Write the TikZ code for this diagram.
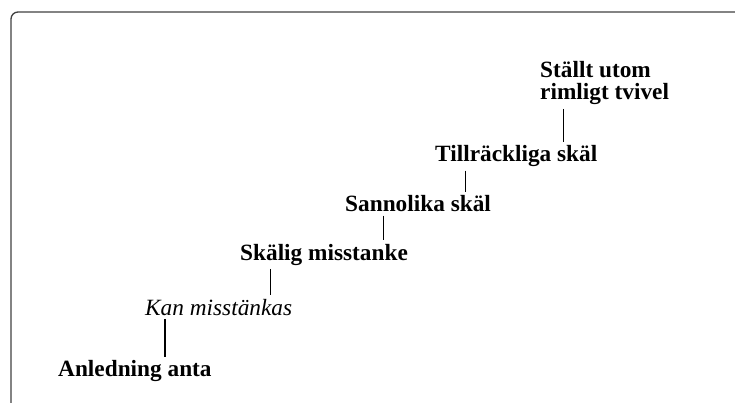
\documentclass[tikz,border=0pt]{standalone}
\usepackage{fontspec}
\setmainfont{Liberation Serif}
\usetikzlibrary{positioning}
\tikzset{
  level/.style = {anchor=base west, inner xsep=0pt, inner ysep=3.5pt,
                  font=\fontsize{23.3}{22.3}\selectfont\bfseries, align=left},
  weak/.style  = {level, font=\fontsize{23.3}{22.3}\selectfont\itshape},
  link/.style  = {line width=1.2pt, black},
  frame/.style = {draw=black!75, line width=1.3pt, rounded corners=7pt},
}

\begin{document}
\begin{tikzpicture}[x=1pt, y=-1pt]
  \useasboundingbox (0,0) rectangle (735,403);
  \clip (0,0) rectangle (735,403);
  \draw[frame] (11,12) rectangle (760,430);

  % levels, lowest to highest
  \node[level] (anl)  at (58,376.7)  {Anledning anta};
  \node[weak]  (kan)  at (145,315)   {Kan misstänkas};
  \node[level] (skal) at (240,260)   {Skälig misstanke};
  \node[level] (sann) at (345,211.7) {Sannolika skäl};
  \node[level] (till) at (435,161.7) {Tillräckliga skäl};
  \node[level] (top)  at (540,100)   {Ställt utom\\rimligt tvivel};

  \foreach \a/\b/\d in {top/till/23.3, till/sann/30.7, sann/skal/38.3,
                        skal/kan/30.7, kan/anl/20}
    \draw[link] ([xshift=\d pt]\a.south west) -- ([xshift=\d pt]\a.south west |- \b.north);
\end{tikzpicture}
\end{document}
